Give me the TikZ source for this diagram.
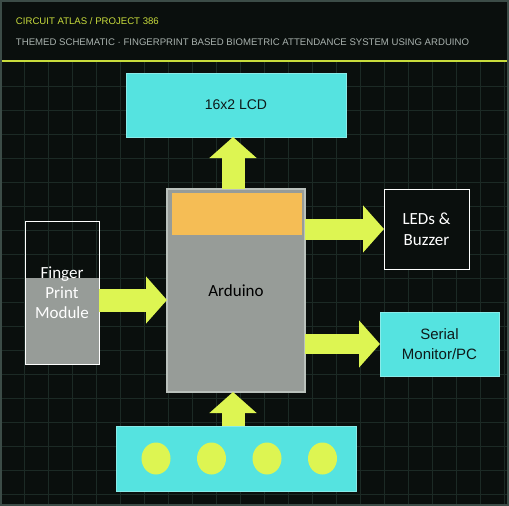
\documentclass[tikz,border=0pt]{standalone}
\usepackage{fontspec}
\setmainfont{Carlito}
\newfontfamily\hdrfont{Liberation Sans}
\usetikzlibrary{arrows.meta}
\usetikzlibrary{shapes.geometric}
\usetikzlibrary{positioning}

\definecolor{bgdark}{HTML}{0A0F0D}
\definecolor{framegray}{HTML}{3C4C47}
\definecolor{gridgreen}{HTML}{1C2A25}
\definecolor{accent}{HTML}{C9DC3C}
\definecolor{subgray}{HTML}{A9B2AE}
\definecolor{lcdcyan}{HTML}{55E3E0}
\definecolor{boardgray}{HTML}{979C98}
\definecolor{boardedge}{HTML}{BAC1BC}
\definecolor{bandorange}{HTML}{F5BD55}
\definecolor{arrowlime}{HTML}{DDF552}
\definecolor{inkdark}{HTML}{0E1A1A}

\begin{document}
\begin{tikzpicture}[
    x=1pt, y=-1pt,
    every node/.style={inner sep=0pt, outer sep=0pt, align=center},
    cyanbox/.style={fill=lcdcyan, draw=lcdcyan!70!white, line width=0.8pt, text=inkdark, font=\hdrfont\fontsize{14}{17}\selectfont},
    darkbox/.style={draw=white, line width=1pt, text=white, font=\fontsize{17}{21}\selectfont},
    fatarrow/.style={draw=arrowlime, line width=#1, -{Triangle[length=21pt,width=46pt]}},
    fatarrow/.default=23pt,
    pad/.style={ellipse, fill=arrowlime, minimum width=29pt, minimum height=32pt}
]
    % Background, frame and grid
    \useasboundingbox (0,0) rectangle (509,506);
    \fill[bgdark] (0,0) rectangle (509,506);
    \foreach \x in {24,48,...,504}
        \draw[gridgreen, line width=0.8pt] (\x,62) -- (\x,504);
    \foreach \y in {86,110,...,494}
        \draw[gridgreen, line width=0.8pt] (2,\y) -- (507,\y);
    \draw[framegray, line width=2.4pt] (1.2,1.2) rectangle (507.8,504.8);
    \draw[accent, line width=1.2pt] (2,61) -- (507,61);

    % Header
    \node[anchor=west, text=accent, font=\hdrfont\fontsize{9.6}{11}\selectfont] (title) at (16,21) {CIRCUIT ATLAS / PROJECT 386};
    \node[anchor=west, text=subgray, font=\hdrfont\fontsize{9.6}{11}\selectfont] (subtitle) at (16,42)
        {THEMED SCHEMATIC · FINGERPRINT BASED BIOMETRIC ATTENDANCE SYSTEM USING ARDUINO};

    % Blocks
    \node[cyanbox, minimum width=220pt, minimum height=64pt] (lcd) at (236,105) {16x2 LCD};
    \node[draw=boardedge, line width=1.5pt, fill=boardgray, minimum width=138pt, minimum height=203pt,
        font=\fontsize{17}{21}\selectfont, text=black,
        path picture={\fill[bandorange] ([xshift=5pt,yshift=-4pt]path picture bounding box.north west)
            rectangle ([xshift=-3pt,yshift=-46pt]path picture bounding box.north east);}]
        (ard) at (236,290.5) {Arduino};
    \node[darkbox, minimum width=74pt, minimum height=143pt,
        path picture={\fill[boardgray] ([yshift=14.5pt]path picture bounding box.east)
            rectangle (path picture bounding box.south west);}]
        (fp) at (62,292.5) {Finger\\[-1pt]Print\\[-1pt]Module};
    \node[darkbox, fill=bgdark, minimum width=85pt, minimum height=80pt] (leds) at (426.5,229) {LEDs \&\\Buzzer};
    \node[cyanbox, font=\hdrfont\fontsize{15}{20}\selectfont, minimum width=119pt, minimum height=64pt] (ser) at (439.5,344) {Serial\\Monitor/PC};
    \node[cyanbox, minimum width=240pt, minimum height=65pt] (strip) at (236,458.5) {};
    \foreach \i/\dx in {1/-80,2/-24.5,3/31,4/86.5}
        \node[pad] (pad\i) at ([xshift=\dx pt]strip.center) {};

    % Arrows
    \draw[fatarrow] ([xshift=-3pt]ard.north) -- ([xshift=-3pt]lcd.south);
    \draw[fatarrow] ([xshift=-3pt]strip.north) -- ([xshift=-3pt]ard.south);
    \draw[fatarrow] ([yshift=-7.5pt]fp.east) -- ([yshift=-7.5pt]fp.east -| ard.west);
    \draw[fatarrow=21pt] (ard.east |- leds.west) -- (leds.west);
    \draw[fatarrow=20pt] (ard.east |- ser.west) -- (ser.west);
\end{tikzpicture}
\end{document}
